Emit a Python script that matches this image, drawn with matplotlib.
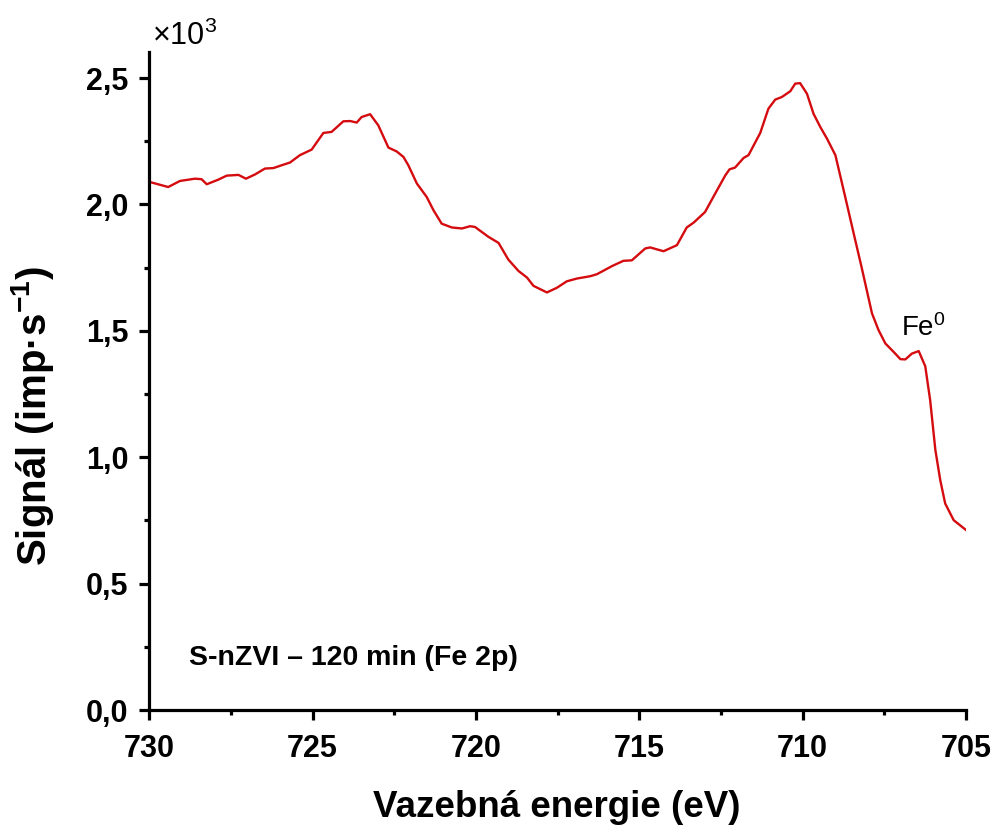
import matplotlib
matplotlib.use("Agg")
import matplotlib.pyplot as plt
from matplotlib.ticker import MultipleLocator, FuncFormatter

plt.rcParams['font.family'] = ['Liberation Sans', 'DejaVu Sans']
plt.rcParams['mathtext.fontset'] = 'custom'
plt.rcParams['mathtext.rm'] = 'Liberation Sans'
plt.rcParams['mathtext.it'] = 'Liberation Sans:italic'
plt.rcParams['mathtext.bf'] = 'Liberation Sans:bold'

# Binding energy (eV) and signal (x10^3 imp/s)
energy = [729.93, 729.42, 729.06, 728.60, 728.40, 728.24, 727.89, 727.63, 727.27, 727.04,
          726.76, 726.46, 726.20, 725.95, 725.69, 725.39, 725.03, 724.67, 724.42, 724.06,
          723.85, 723.65, 723.50, 723.24, 722.99, 722.68, 722.43, 722.22, 722.07, 721.81,
          721.51, 721.30, 721.05, 720.74, 720.43, 720.18, 720.03, 719.62, 719.31, 719.01,
          718.70, 718.44, 718.24, 717.83, 717.53, 717.22, 716.91, 716.51, 716.30, 715.84,
          715.49, 715.23, 714.82, 714.67, 714.26, 713.85, 713.55, 713.34, 712.99, 712.68,
          712.37, 712.24, 712.07, 711.81, 711.66, 711.30, 711.05, 710.84, 710.64, 710.38,
          710.23, 710.08, 709.87, 709.67, 709.46, 709.26, 709.00, 708.70, 708.44, 708.19,
          707.88, 707.68, 707.47, 707.22, 707.01, 706.86, 706.66, 706.45, 706.25, 706.10,
          705.94, 705.79, 705.64, 705.38, 705.00]
signal = [2.087, 2.069, 2.093, 2.102, 2.100, 2.080, 2.098, 2.114, 2.117, 2.102,
          2.119, 2.142, 2.144, 2.155, 2.166, 2.195, 2.217, 2.283, 2.287, 2.329,
          2.330, 2.324, 2.346, 2.357, 2.313, 2.225, 2.210, 2.188, 2.155, 2.083,
          2.030, 1.977, 1.924, 1.909, 1.905, 1.914, 1.911, 1.872, 1.848, 1.782,
          1.737, 1.711, 1.678, 1.652, 1.670, 1.696, 1.707, 1.716, 1.724, 1.756,
          1.777, 1.779, 1.826, 1.830, 1.815, 1.839, 1.909, 1.928, 1.970, 2.043,
          2.115, 2.139, 2.146, 2.184, 2.195, 2.283, 2.379, 2.415, 2.425, 2.448,
          2.478, 2.480, 2.438, 2.359, 2.306, 2.261, 2.195, 2.030, 1.885, 1.747,
          1.569, 1.503, 1.450, 1.417, 1.388, 1.387, 1.410, 1.420, 1.360, 1.226,
          1.028, 0.909, 0.817, 0.751, 0.712]

x_ticks = [730, 725, 720, 715, 710, 705]
y_ticks = [0.0, 0.5, 1.0, 1.5, 2.0, 2.5]

fig = plt.figure(figsize=(9.97, 8.26), dpi=100)
ax = fig.add_axes([0.1497, 0.1404, 0.8193, 0.7966])

ax.plot(energy, signal, color='#d40c10', lw=1.7)

ax.set_xlim(730, 705)
ax.set_ylim(0, 2.603)
ax.set_xticks(x_ticks)
ax.set_yticks(y_ticks)
ax.xaxis.set_minor_locator(MultipleLocator(2.5))
ax.yaxis.set_minor_locator(MultipleLocator(0.25))
ax.yaxis.set_major_formatter(FuncFormatter(lambda v, p: f"{v:.1f}".replace('.', ',')))
ax.xaxis.set_major_formatter(FuncFormatter(lambda v, p: f"{v:.0f}"))

for s in ['top', 'right']:
    ax.spines[s].set_visible(False)
for s in ['left', 'bottom']:
    ax.spines[s].set_linewidth(2.3)

ax.tick_params(which='major', direction='out', length=7, width=2.3, labelsize=22)
ax.tick_params(axis='x', which='major', pad=10)
ax.tick_params(axis='y', which='major', pad=8)
ax.tick_params(which='minor', direction='out', length=3.5, width=2.3)
for lab in ax.get_xticklabels() + ax.get_yticklabels():
    lab.set_fontweight('bold')

fig.text(557/997, 1 - 817/826, 'Vazebná energie (eV)', fontsize=26.5,
         fontweight='bold', ha='center', va='baseline')
fig.text(33/997, 1 - 416/826, 'Signál (imp·s$^{\\mathbf{-1}}$)', fontsize=29,
         fontweight='bold', ha='center', va='center', rotation=90)

fig.text(152/997, 1 - 45/826, '×10$^{3}$', fontsize=22, ha='left', va='baseline')

fig.text(189/997, 1 - 665/826, 'S-nZVI – 120 min (Fe 2p)', fontsize=20.5,
         fontweight='bold', ha='left', va='baseline')
ax.text(706.98, 1.48, 'Fe$^{0}$', fontsize=20, ha='left', va='baseline')

fig.savefig('out.png', dpi=100)
